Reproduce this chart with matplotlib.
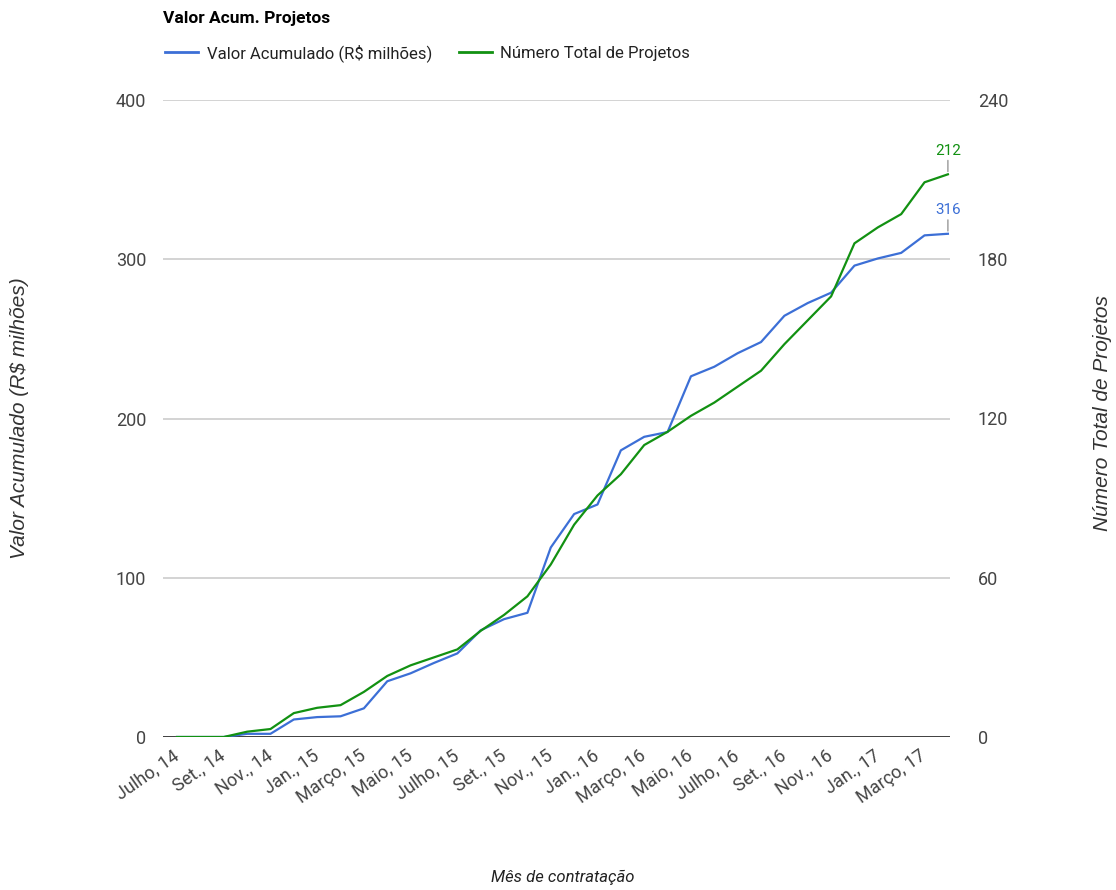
import matplotlib
matplotlib.use("Agg")
import matplotlib.pyplot as plt
from matplotlib.lines import Line2D

plt.rcParams['font.family'] = ['Roboto', 'Liberation Sans', 'DejaVu Sans']

# monthly points, Julho 2014 .. Abril 2017
months = list(range(34))
tick_labels = ["Julho, 14", "Set., 14", "Nov., 14", "Jan., 15", "Março, 15", "Maio, 15",
               "Julho, 15", "Set., 15", "Nov., 15", "Jan., 16", "Março, 16", "Maio, 16",
               "Julho, 16", "Set., 16", "Nov., 16", "Jan., 17", "Março, 17"]

valor = [0, 0, 0, 2, 2, 11, 12.5, 13, 18, 35, 40, 46.5, 52.5, 67, 74, 78, 119, 140,
         146, 180, 188.5, 191.5, 226.5, 232.5, 241, 248, 264.5, 272.5, 279, 296,
         300.5, 304, 315, 316]
projetos = [0, 0, 0, 2, 3, 9, 11, 12, 17, 23, 27, 30, 33, 40, 46, 53, 65, 80, 91, 99,
            110, 115, 121, 126, 132, 138, 148, 157, 166, 186, 192, 197, 209, 212]

blue = "#3c6fd6"
green = "#129112"
txt = "#444444"

fig = plt.figure(figsize=(11.16, 8.9), dpi=100)
ax = fig.add_axes([163 / 1116, 1 - 737 / 890, (950 - 163) / 1116, 637 / 890])
ax2 = ax.twinx()

ax.plot(months, valor, color=blue, lw=1.6, zorder=3)
ax2.plot(months, projetos, color=green, lw=1.6, zorder=3)

ax.set_xlim(-0.6, 33.09)
ax.set_ylim(0, 400)
ax2.set_ylim(0, 240)
ax.set_yticks([0, 100, 200, 300, 400])
ax2.set_yticks([0, 60, 120, 180, 240])
ax.set_xticks(months[::2])
ax.set_xticklabels(tick_labels, rotation=35, ha="right", va="center",
                   rotation_mode="anchor", fontsize=12, color=txt)

for a in (ax, ax2):
    for s in a.spines.values():
        s.set_visible(False)
    a.tick_params(length=0, labelsize=13, labelcolor=txt)
ax.tick_params(axis="y", pad=12)
ax2.tick_params(axis="y", pad=20)
ax.tick_params(axis="x", pad=12)

ax.grid(axis="y", color="#cccccc", lw=1.2)
ax.set_axisbelow(True)
ax.axhline(0, color="#333333", lw=2, zorder=2)

# end labels
ax.annotate("316", xy=(33, 316), xytext=(0, 12), textcoords="offset points",
            ha="center", va="bottom", color=blue, fontsize=11,
            arrowprops=dict(arrowstyle="-", color="#999999", lw=1, shrinkA=0, shrinkB=2))
ax2.annotate("212", xy=(33, 212), xytext=(0, 12), textcoords="offset points",
             ha="center", va="bottom", color=green, fontsize=11,
             arrowprops=dict(arrowstyle="-", color="#999999", lw=1, shrinkA=0, shrinkB=2))

# axis titles
fig.text(563 / 1116, 1 - 877 / 890, "Mês de contratação", ha="center", va="center",
         style="italic", fontsize=12, color="#222222")
fig.text(20 / 1116, 1 - 418 / 890, "Valor Acumulado (R$ milhões)", rotation=90,
         ha="center", va="center", style="italic", fontsize=15, color="#333333",
         family=["Liberation Sans", "DejaVu Sans"])
fig.text(1103 / 1116, 1 - 413 / 890, "Número Total de Projetos", rotation=90,
         ha="center", va="center", style="italic", fontsize=15, color="#333333",
         family=["Liberation Sans", "DejaVu Sans"])

fig.text(163 / 1116, 1 - 18 / 890, "Valor Acum. Projetos", ha="left", va="center",
         fontsize=12.5, weight="bold", color="#000000")

handles = [Line2D([], [], color=blue, lw=2), Line2D([], [], color=green, lw=2)]
fig.legend(handles, ["Valor Acumulado (R$ milhões)", "Número Total de Projetos"],
           loc="center left", bbox_to_anchor=(150 / 1116, 1 - 53 / 890), ncol=2,
           frameon=False, fontsize=12, handlelength=2.0, handletextpad=0.5,
           columnspacing=1.6, labelcolor="#222222")

fig.savefig("out.png", dpi=100)
